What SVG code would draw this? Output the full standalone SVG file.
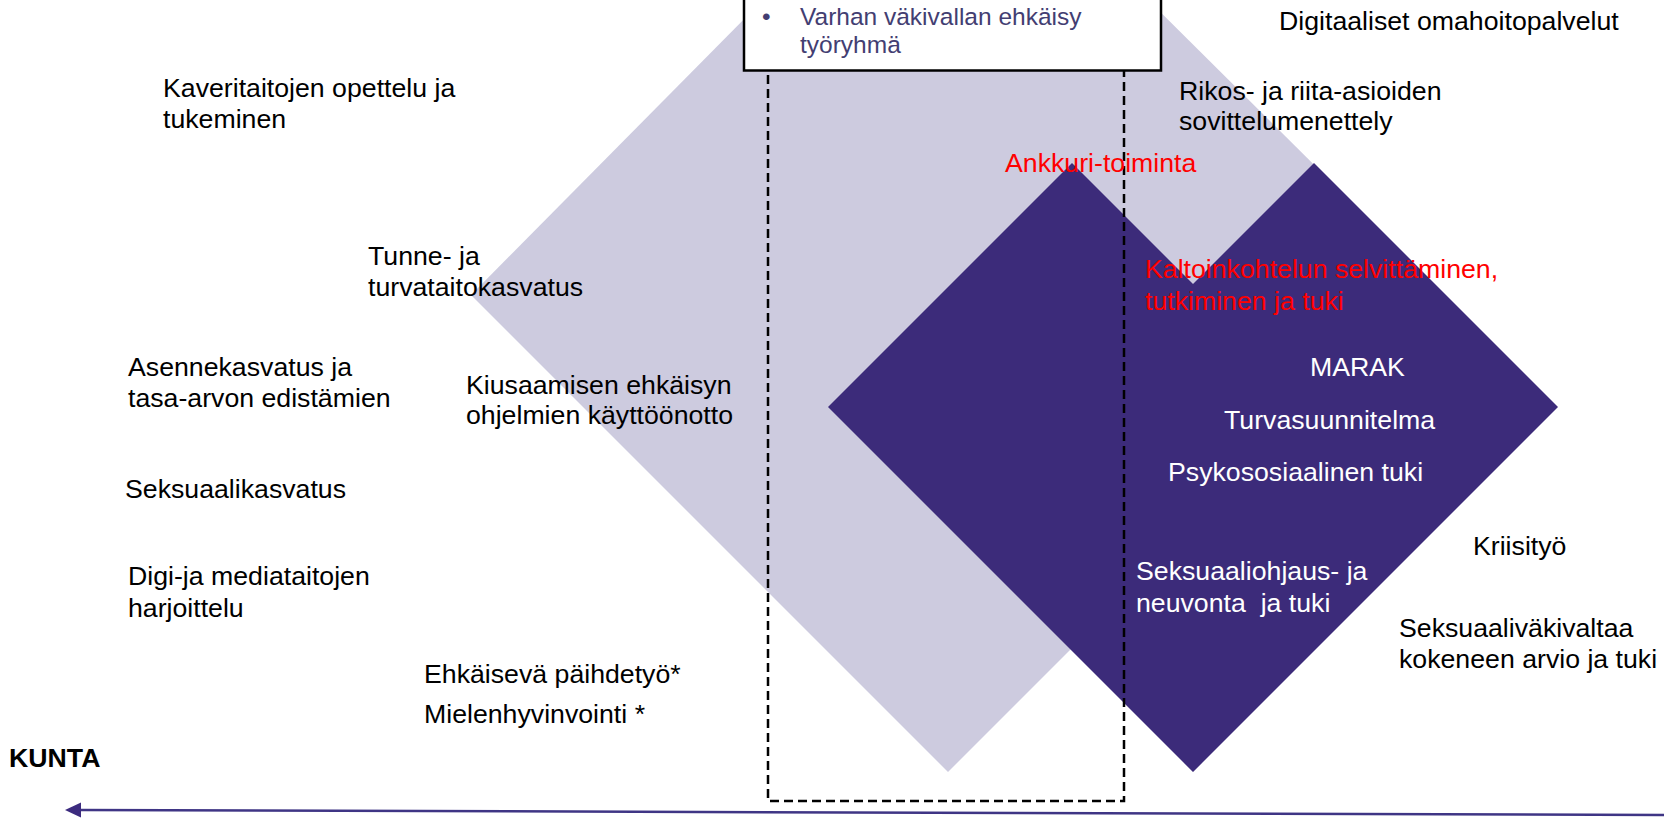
<svg xmlns="http://www.w3.org/2000/svg" width="1664" height="826" viewBox="0 0 1664 826">
  <defs>
    <style>
      text { font-family: "Liberation Sans", Arial, sans-serif; font-size: 26.7px; fill: #000; }
      .red { fill: #ff0000; }
      .wht { fill: #ffffff; }
      .box { font-size: 24.5px; fill: #433e72; }
      .bold { font-weight: bold; }
    </style>
    <marker id="arrowhead" viewBox="0 0 16 16" refX="1" refY="8" markerWidth="16" markerHeight="16" markerUnits="userSpaceOnUse" orient="auto-start-reverse">
      <path d="M0,0.5 L16,8 L0,15.5 Z" fill="#3c2b7f"/>
    </marker>
  </defs>
  <rect width="1664" height="826" fill="#ffffff"/>

  <g id="shape-light">
    <polygon points="954,-193 1435,285 948,772 471,295" fill="#cdcbdf"/>
  </g>
  <g id="shape-dark">
    <polygon points="1072,163 1193,284 1314,163 1558,407 1193,772 828,407" fill="#3c2b7a"/>
  </g>

  <g id="scope-dashed">
    <rect x="768" y="-10" width="356" height="811" fill="none" stroke="#000" stroke-width="2.5" stroke-dasharray="9 5"/>
  </g>

  <g id="node-box">
    <rect x="744" y="-10" width="417" height="80.5" fill="#ffffff" stroke="#000" stroke-width="2.5"/>
    <text class="box" x="762" y="25">•</text>
    <text class="box" x="800" y="25">Varhan väkivallan ehkäisy</text>
    <text class="box" x="800" y="53">työryhmä</text>
  </g>

  <g id="node-digitaaliset"><text x="1279" y="30">Digitaaliset omahoitopalvelut</text></g>
  <g id="node-rikos"><text x="1179" y="100">Rikos- ja riita-asioiden</text><text x="1179" y="130">sovittelumenettely</text></g>
  <g id="node-kaveri"><text x="163" y="97">Kaveritaitojen opettelu ja</text><text x="163" y="128">tukeminen</text></g>
  <g id="node-tunne"><text x="368" y="265">Tunne- ja</text><text x="368" y="296">turvataitokasvatus</text></g>
  <g id="node-asenne"><text x="128" y="376">Asennekasvatus ja</text><text x="128" y="407">tasa-arvon edistämien</text></g>
  <g id="node-kiusaaminen"><text x="466" y="394">Kiusaamisen ehkäisyn</text><text x="466" y="424">ohjelmien käyttöönotto</text></g>
  <g id="node-seksuaalikasvatus"><text x="125" y="498">Seksuaalikasvatus</text></g>
  <g id="node-digi"><text x="128" y="585">Digi-ja mediataitojen</text><text x="128" y="617">harjoittelu</text></g>
  <g id="node-ehkaiseva"><text x="424" y="683">Ehkäisevä päihdetyö*</text></g>
  <g id="node-mieli"><text x="424" y="723">Mielenhyvinvointi *</text></g>
  <g id="node-kunta"><text class="bold" x="9" y="767">KUNTA</text></g>

  <g id="node-ankkuri"><text class="red" x="1005" y="172">Ankkuri-toiminta</text></g>
  <g id="node-kaltoin"><text class="red" x="1145" y="278">Kaltoinkohtelun selvittäminen,</text><text class="red" x="1145" y="310">tutkiminen ja tuki</text></g>
  <g id="node-marak"><text class="wht" x="1310" y="376">MARAK</text></g>
  <g id="node-turva"><text class="wht" x="1224" y="429">Turvasuunnitelma</text></g>
  <g id="node-psyko"><text class="wht" x="1168" y="481">Psykososiaalinen tuki</text></g>
  <g id="node-kriisi"><text x="1473" y="555">Kriisityö</text></g>
  <g id="node-seksohjaus"><text class="wht" x="1136" y="580">Seksuaaliohjaus- ja</text><text class="wht" x="1136" y="612" xml:space="preserve">neuvonta  ja tuki</text></g>
  <g id="node-seksvak"><text x="1399" y="637">Seksuaaliväkivaltaa</text><text x="1399" y="668">kokeneen arvio ja tuki</text></g>

  <g id="connectors">
    <line x1="1664" y1="815" x2="80" y2="810" stroke="#3f3585" stroke-width="2.5" marker-end="url(#arrowhead)"/>
  </g>
</svg>
